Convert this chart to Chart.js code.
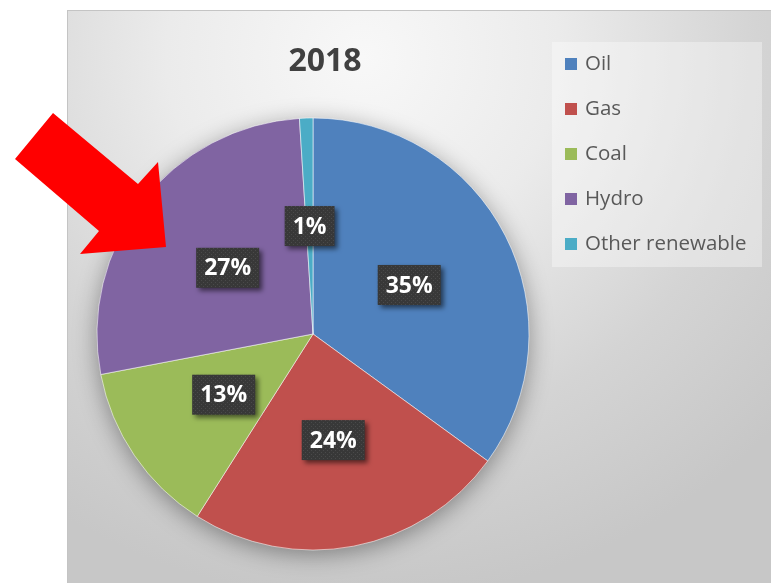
<!DOCTYPE html>
<html>
<head>
<meta charset="utf-8">
<title>2018</title>
<script src="https://cdn.jsdelivr.net/npm/chart.js@4.4.1/dist/chart.umd.min.js"></script>
<style>
  html, body { margin: 0; padding: 0; background: #fff; }
  body { width: 771px; height: 583px; position: relative; overflow: hidden; }
  .chart-box {
    position: absolute; left: 67px; top: 10px; width: 703px; height: 572px;
    border-top: 1px solid #c4c4c4; border-left: 1px solid #c4c4c4;
    background: radial-gradient(ellipse 80% 95% at 42% 8%, #f8f8f8 0%, #ebebeb 35%, #d4d4d4 70%, #c7c7c7 100%);
  }
  .chart-box canvas { position: absolute; left: 0; top: 0; }
  .arrow { position: absolute; left: 0; top: 0; }
</style>
</head>
<body>
<div class="chart-box">
  <canvas id="pieChart" width="703" height="572"></canvas>
</div>
<svg class="arrow" width="771" height="583">
  <polygon points="53,113 138,184 158,162 166,247 80,254 99,231 15,159" fill="#ff0000"/>
</svg>
<script>
// energy mix, share in percent
const categories = ["Oil", "Gas", "Coal", "Hydro", "Other renewable"];
const shares = [35, 24, 13, 27, 1];
const colors = ["#4f81bd", "#c0504d", "#9bbb59", "#8064a2", "#4bacc6"];
const chartTitle = "2018";

const FONT = "'Open Sans', 'DejaVu Sans', sans-serif";

// dark dotted fill for the value boxes
function dotPattern(ctx) {
  const c = document.createElement("canvas");
  c.width = 4; c.height = 4;
  const p = c.getContext("2d");
  p.fillStyle = "#383838";
  p.fillRect(0, 0, 4, 4);
  p.fillStyle = "#4a4a4a";
  p.fillRect(1, 1, 1, 1);
  p.fillRect(3, 3, 1, 1);
  return ctx.createPattern(c, "repeat");
}

// soft shadow under the whole pie
const pieShadow = {
  id: "pieShadow",
  beforeDatasetsDraw(chart) {
    const arc = chart.getDatasetMeta(0).data[0];
    if (!arc) return;
    const ctx = chart.ctx;
    ctx.save();
    ctx.shadowColor = "rgba(0,0,0,0.4)";
    ctx.shadowBlur = 24;
    ctx.shadowOffsetY = 5;
    ctx.fillStyle = "#999";
    ctx.beginPath();
    ctx.arc(arc.x, arc.y, arc.outerRadius - 1, 0, Math.PI * 2);
    ctx.fill();
    ctx.restore();
  }
};

// percentage boxes in the middle of each slice
const valueBoxes = {
  id: "valueBoxes",
  afterDatasetsDraw(chart) {
    const ctx = chart.ctx;
    const fill = dotPattern(ctx);
    const meta = chart.getDatasetMeta(0);
    ctx.save();
    ctx.font = "bold 23px " + FONT;
    ctx.textAlign = "center";
    ctx.textBaseline = "middle";
    meta.data.forEach((arc, i) => {
      const pos = arc.tooltipPosition();
      const text = shares[i] + "%";
      const w = ctx.measureText(text).width + 16;
      const h = 40;
      ctx.save();
      ctx.shadowColor = "rgba(0,0,0,0.55)";
      ctx.shadowBlur = 5;
      ctx.shadowOffsetX = 3;
      ctx.shadowOffsetY = 3;
      ctx.fillStyle = fill;
      ctx.fillRect(pos.x - w / 2, pos.y - h / 2, w, h);
      ctx.restore();
      ctx.fillStyle = "#ffffff";
      ctx.fillText(text, pos.x, pos.y + 1);
    });
    ctx.restore();
  }
};

// title and the legend panel on the right
const titleAndLegend = {
  id: "titleAndLegend",
  afterDraw(chart) {
    const ctx = chart.ctx;
    ctx.save();
    ctx.fillStyle = "#404040";
    ctx.font = "bold 32px " + FONT;
    ctx.textAlign = "center";
    ctx.textBaseline = "alphabetic";
    ctx.fillText(chartTitle, 257, 60);

    ctx.fillStyle = "rgba(255,255,255,0.35)";
    ctx.fillRect(484, 31, 210, 225);

    ctx.font = "20.5px " + FONT;
    ctx.textAlign = "left";
    ctx.textBaseline = "middle";
    const bg = chart.data.datasets[0].backgroundColor;
    chart.data.labels.forEach((label, i) => {
      const y = 53 + i * 45;
      ctx.fillStyle = bg[i];
      ctx.fillRect(497, y - 6, 12, 12);
      ctx.fillStyle = "#595959";
      ctx.fillText(label, 517, y);
    });
    ctx.restore();
  }
};

new Chart(document.getElementById("pieChart"), {
  type: "pie",
  data: {
    labels: categories,
    datasets: [{
      data: shares,
      backgroundColor: colors,
      borderColor: "rgba(255,255,255,0.55)",
      borderWidth: 1,
      radius: 216
    }]
  },
  options: {
    responsive: false,
    animation: false,
    layout: { padding: { left: 20, right: 233, top: 98, bottom: 24 } },
    plugins: {
      legend: { display: false },
      title: { display: false },
      tooltip: { enabled: false }
    }
  },
  plugins: [pieShadow, valueBoxes, titleAndLegend]
});
</script>
</body>
</html>
